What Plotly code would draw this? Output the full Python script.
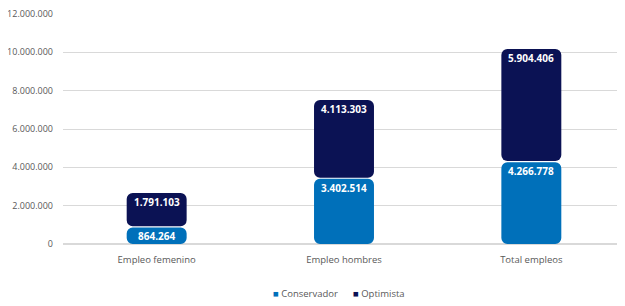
import plotly.graph_objects as go

categories = ["Empleo femenino", "Empleo hombres", "Total empleos"]
conservador = [864264, 3402514, 4266778]
optimista = [1791103, 4113303, 5904406]
series_names = ["Conservador", "Optimista"]
colors = ["#0070BA", "#0B1254"]
y_ticks = [0, 2000000, 4000000, 6000000, 8000000, 10000000, 12000000]

GAP = 60000  # visual gap between stacked segments (data units)
BAR_W = 0.32

fig = go.Figure()

def fmt(v):
    return f"{v:,}".replace(",", ".")

bases_all = [[0] * 3, conservador]
values_all = [conservador, optimista]

annotations = []
for name, col, bases, vals in zip(series_names, colors, bases_all, values_all):
    lo = [b + (GAP if b > 0 else 0) for b in bases]
    hi = [b + v for b, v in zip(bases, vals)]
    fig.add_trace(go.Bar(x=categories, y=[h - l for h, l in zip(hi, lo)], base=lo, name=name,
                         marker=dict(color=col, cornerradius=6, line=dict(width=0)),
                         width=BAR_W, showlegend=False, hoverinfo="skip"))
    for c, h, v in zip(categories, hi, vals):
        annotations.append(dict(x=c, y=h, yref="y", xref="x", text="<b>" + fmt(v) + "</b>",
                                showarrow=False, yanchor="top", yshift=0,
                                font=dict(color="white", size=10, family="Open Sans")))

# legend drawn as annotations (compact spacing like the reference)
legend_x = [0.370, 0.512]
for name, col, lx in zip(series_names, colors, legend_x):
    annotations.append(dict(x=lx, y=-0.216, xref="paper", yref="paper",
                            xanchor="left", yanchor="middle", showarrow=False,
                            text=f'<span style="color:{col}">■</span> {name}',
                            font=dict(size=9.5, color="#595959", family="Open Sans")))

fig.update_layout(
    width=617, height=298,
    margin=dict(l=55, r=0, t=6, b=62, autoexpand=False),
    barmode="overlay",
    plot_bgcolor="white", paper_bgcolor="white",
    separators=",.",
    font=dict(family="Open Sans", size=9, color="#595959"),
    annotations=annotations,
    xaxis=dict(showgrid=False, showline=False, ticks="", automargin=False,
               ticklabelstandoff=8, tickfont=dict(size=9.5, color="#595959")),
    yaxis=dict(range=[0, 12000000], tickvals=y_ticks, tickformat=",d", automargin=False,
               showgrid=True, gridcolor="#D9D9D9", gridwidth=1,
               zeroline=True, zerolinecolor="#D9D9D9", zerolinewidth=1.5,
               ticks="", ticklabelstandoff=9, ticklabeloverflow="allow",
               tickfont=dict(size=9, color="#595959")),
    showlegend=False,
)

fig.write_html("out.html")
